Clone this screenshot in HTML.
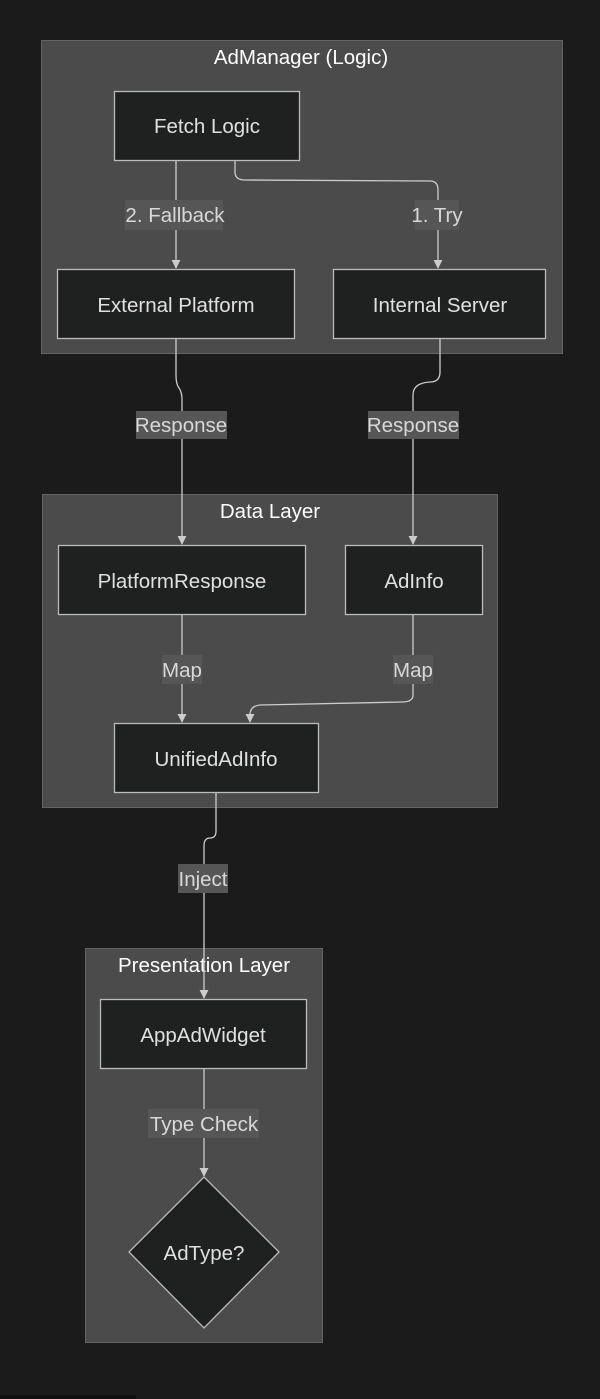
<!DOCTYPE html>
<html><head><meta charset="utf-8"><style>
html,body{margin:0;padding:0;background:#1b1b1b;}
svg{display:block;}
text{font-family:"Liberation Sans",sans-serif;}
</style></head><body>
<svg width="600" height="1399" viewBox="0 0 600 1399" xmlns="http://www.w3.org/2000/svg">
<defs><marker id="a" viewBox="0 0 10 10" refX="9" refY="5" markerWidth="9" markerHeight="9" markerUnits="userSpaceOnUse" orient="auto"><path d="M0,0 L10,5 L0,10 z" fill="#ccc"/></marker></defs>
<rect width="600" height="1399" fill="#1b1b1b"/>
<g fill="#4a4b4a" stroke="#626362" stroke-width="1">
<rect x="41.5" y="40.5" width="521" height="313"/>
<rect x="42.5" y="494.5" width="455" height="313"/>
<rect x="85.5" y="948.5" width="237" height="394"/>
</g>
<g fill="#fff" font-size="20.5" text-anchor="middle">
<text x="301" y="64">AdManager (Logic)</text>
<text x="270" y="518">Data Layer</text>
<text x="204" y="972">Presentation Layer</text>
</g>
<g fill="none" stroke="#ccc" stroke-width="1.3">
<path d="M176,160 V268" marker-end="url(#a)"/>
<path d="M235,160 V172 Q235,180 245,180 L430,181 Q438,181 438,190 V268" marker-end="url(#a)"/>
<path d="M176,338 V375 Q176,384 179,388 Q182,392 182,400 V544" marker-end="url(#a)"/>
<path d="M440,338 V372 Q440,382 430,382 Q413,383 413,395 V544" marker-end="url(#a)"/>
<path d="M182,614 V722" marker-end="url(#a)"/>
<path d="M413,614 V695 Q413,702 402,702 L260,705 Q250,706 250,715 V722" marker-end="url(#a)"/>
<path d="M216,792 V831 Q216,838 210,838 Q204,838 204,846 V998" marker-end="url(#a)"/>
<path d="M204,1068 V1176" marker-end="url(#a)"/>
</g>
<g fill="#555655">
<rect x="125" y="200" width="98" height="30"/>
<rect x="415" y="200" width="44" height="30"/>
<rect x="136" y="411" width="91" height="28"/>
<rect x="368" y="411" width="91" height="28"/>
<rect x="162" y="655" width="40" height="29"/>
<rect x="393" y="655" width="40" height="29"/>
<rect x="178" y="864" width="50" height="29"/>
<rect x="148" y="1109" width="111" height="29"/>
</g>
<g fill="#d8d8d8" font-size="20.5" text-anchor="middle">
<text x="175" y="222">2. Fallback</text>
<text x="437" y="222">1. Try</text>
<text x="181" y="432">Response</text>
<text x="413" y="432">Response</text>
<text x="182" y="677">Map</text>
<text x="413" y="677">Map</text>
<text x="203" y="886">Inject</text>
<text x="204" y="1131">Type Check</text>
</g>
<g fill="#1f2020" stroke="#bbb" stroke-width="1.3">
<rect x="114.5" y="91.5" width="185" height="69"/>
<rect x="57.5" y="269.5" width="237" height="69"/>
<rect x="333.5" y="269.5" width="212" height="69"/>
<rect x="58.5" y="545.5" width="247" height="69"/>
<rect x="345.5" y="545.5" width="137" height="69"/>
<rect x="114.5" y="723.5" width="204" height="69"/>
<rect x="100.5" y="999.5" width="206" height="69"/>
<polygon points="204,1177 279,1252 204,1328 129,1252"/>
</g>
<g fill="#e0e0e0" font-size="20.5" text-anchor="middle">
<text x="207" y="133">Fetch Logic</text>
<text x="176" y="312">External Platform</text>
<text x="440" y="312">Internal Server</text>
<text x="182" y="588">PlatformResponse</text>
<text x="414" y="588">AdInfo</text>
<text x="216" y="766">UnifiedAdInfo</text>
<text x="203" y="1042">AppAdWidget</text>
<text x="204" y="1260">AdType?</text>
</g>
<rect x="0" y="1395" width="136" height="4" fill="#111"/>
</svg>
</body></html>
